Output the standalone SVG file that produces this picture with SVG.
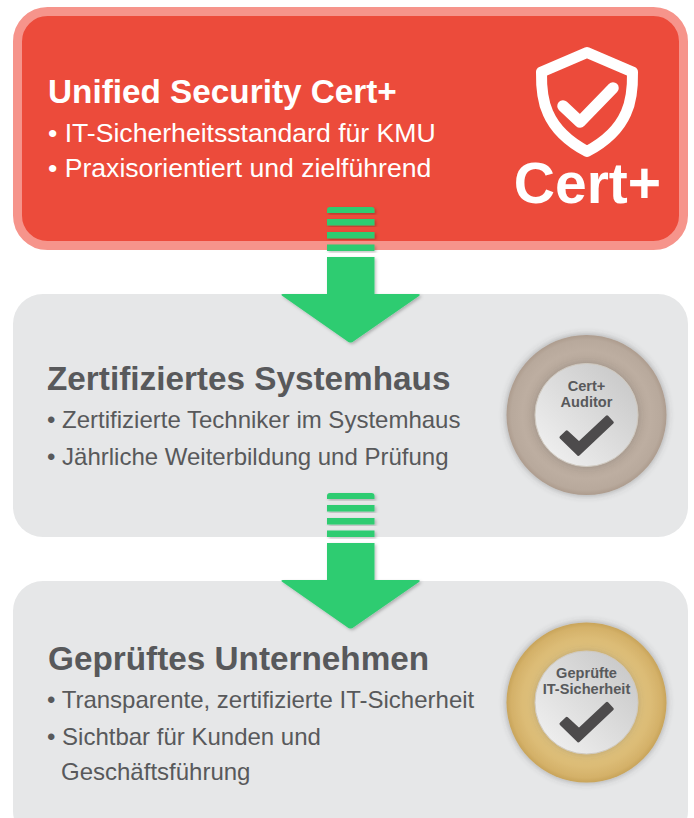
<svg xmlns="http://www.w3.org/2000/svg" width="694" height="818" viewBox="0 0 694 818">
<style>
text{font-family:"Liberation Sans",Arial,sans-serif}
.h{font-weight:700;font-size:33.3px;fill:#58595b}
.b{font-size:24px;fill:#58595b}
.r{font-size:26.6px}
.w{fill:#fff}
.s{font-weight:700;font-size:14.6px;fill:#58595b;text-anchor:middle}
.g{fill:#2ecc71;filter:url(#as)}
.panel{fill:#e6e7e8}
.ring{filter:url(#rs)}
.inner{fill:url(#silver);stroke:#cfc9c0;stroke-width:1;filter:url(#is)}
.chk{fill:#4d4b4c;stroke:#4d4b4c;stroke-width:3;stroke-linejoin:round}
</style>
<defs>
<filter id="as" x="-20%" y="-20%" width="140%" height="140%"><feDropShadow dx="1.5" dy="1.5" stdDeviation="1.5" flood-color="#000" flood-opacity=".25"/></filter>
<filter id="rs" x="-15%" y="-15%" width="130%" height="130%"><feDropShadow dx="0" dy="0" stdDeviation="3.500" flood-color="#444" flood-opacity=".45"/></filter>
<filter id="is" x="-15%" y="-15%" width="130%" height="130%"><feDropShadow dx="0" dy="0" stdDeviation="3" flood-color="#555" flood-opacity=".25"/></filter>
<radialGradient id="brown"><stop offset=".64" stop-color="#b5a699"/><stop offset=".8" stop-color="#bdaea1"/><stop offset=".94" stop-color="#b8a99c"/><stop offset="1" stop-color="#ad9c8e"/></radialGradient>
<radialGradient id="gold"><stop offset=".64" stop-color="#dcbf7c"/><stop offset=".8" stop-color="#dcbc76"/><stop offset=".94" stop-color="#d4b169"/><stop offset="1" stop-color="#c8a45a"/></radialGradient>
<linearGradient id="silver" x1="0" y1="1" x2="1" y2="0"><stop offset="0" stop-color="#f4f4f4"/><stop offset="1" stop-color="#c4c4c4"/></linearGradient>
<g id="arrow">
<path class="g" d="M327 213V210Q327 207 330 207H371.500Q374.500 207 374.500 210V213Z"/>
<rect class="g" x="327" y="219" width="47.500" height="6.500"/>
<rect class="g" x="327" y="232" width="47.500" height="6.500"/>
<rect class="g" x="327" y="244.500" width="47.500" height="6.500"/>
<path class="g" d="M327 257H374.500V294H418Q421 294 419 296L354 341Q350.500 344 347 341L282.500 296Q280 294 283 294H327Z"/>
</g>
</defs>
<g id="node-cert">
<rect x="17.500" y="11.500" width="666" height="234" rx="30" fill="#ec4b3b" stroke="#f6948b" stroke-width="9"/>
<text class="h w" x="48" y="103">Unified Security Cert+</text>
<text class="b r w" x="48" y="142">• IT-Sicherheitsstandard für KMU</text>
<text class="b r w" x="48" y="177">• Praxisorientiert und zielführend</text>
<path d="M587 52.500L632.500 72Q633 98 626 113Q616 136 587 151.500Q558 136 548 113Q541 98 541.500 72Z" fill="none" stroke="#fff" stroke-width="11" stroke-linejoin="round"/>
<path d="M563 106L580 122L613 88" fill="none" stroke="#fff" stroke-width="11.500" stroke-linejoin="round" stroke-linecap="round"/>
<text x="587.500" y="203" text-anchor="middle" style="font-weight:700;font-size:57px" class="w">Cert+</text>
</g>
<g id="node-systemhaus">
<rect class="panel" x="13" y="294" width="675" height="243" rx="30"/>
<text class="h" x="47" y="390">Zertifiziertes Systemhaus</text>
<text class="b" x="47" y="428">• Zertifizierte Techniker im Systemhaus</text>
<text class="b" x="47" y="465">• Jährliche Weiterbildung und Prüfung</text>
<g id="badge-auditor">
<circle class="ring" cx="586.500" cy="415" r="80" fill="url(#brown)"/>
<circle class="inner" cx="586.500" cy="415" r="51.500"/>
<text class="s" x="586.500" y="391">Cert+</text>
<text class="s" x="586.500" y="407">Auditor</text>
<path class="chk" d="M566.800 431.800L561 437.400L578.400 454.400L612.300 422.500L607 416.900L579 443Z"/>
</g>
</g>
<g id="node-unternehmen">
<rect class="panel" x="13" y="581" width="675" height="260" rx="30"/>
<text class="h" x="48" y="670">Geprüftes Unternehmen</text>
<text class="b" x="47" y="708">• Transparente, zertifizierte IT-Sicherheit</text>
<text class="b" x="47" y="745">• Sichtbar für Kunden und</text>
<text class="b" x="61" y="780">Geschäftsführung</text>
<g id="badge-it">
<circle class="ring" cx="586.500" cy="702.500" r="80" fill="url(#gold)"/>
<circle class="inner" cx="586.500" cy="702.500" r="51.500"/>
<text class="s" x="586.500" y="678">Geprüfte</text>
<text class="s" x="586.500" y="694">IT-Sicherheit</text>
<path class="chk" transform="translate(0 286.500)" d="M566.800 431.800L561 437.400L578.400 454.400L612.300 422.500L607 416.900L579 443Z"/>
</g>
</g>
<g id="connectors">
<use href="#arrow"/>
<use href="#arrow" y="286"/>
</g>
</svg>
